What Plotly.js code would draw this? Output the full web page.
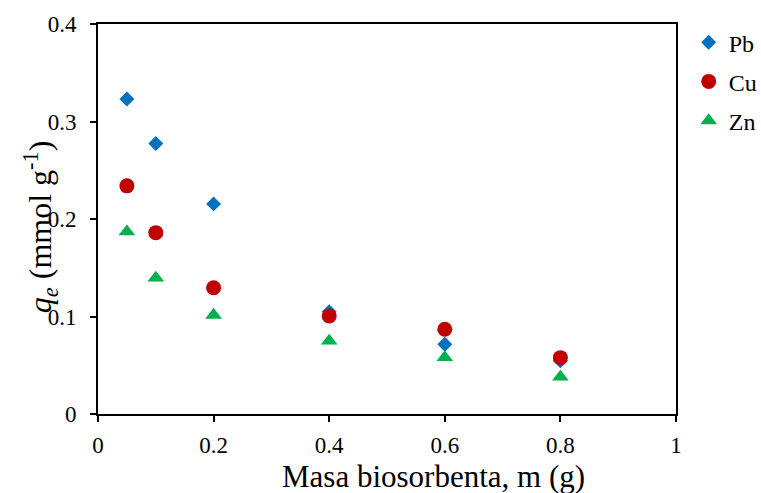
<!DOCTYPE html>
<html>
<head>
<meta charset="utf-8">
<script src="https://cdn.plot.ly/plotly-3.0.1.min.js"></script>
<style>html,body{margin:0;padding:0;background:#fff;}#chart{width:761px;height:493px;}</style>
</head>
<body>
<div id="chart"></div>
<script>
const massX = [0.05, 0.1, 0.2, 0.4, 0.6, 0.8];
const pbVals = [0.323, 0.2775, 0.2155, 0.105, 0.0715, 0.0545];
const cuVals = [0.234, 0.186, 0.1295, 0.1005, 0.087, 0.0578];
const znVals = [0.187, 0.1395, 0.1015, 0.075, 0.058, 0.038];
const seriesNames = ['Pb', 'Cu', 'Zn'];
const xTicks = [0, 0.2, 0.4, 0.6, 0.8, 1];
const xTickText = ['0', '0.2', '0.4', '0.6', '0.8', '1'];
const yTicks = [0, 0.1, 0.2, 0.3, 0.4];
const yTickText = ['0', '0.1', '0.2', '0.3', '0.4'];
const xTitle = 'Masa biosorbenta, m (g)';
const yTitle = '<i>q<sub>e</sub></i> (mmol g<sup>-1</sup>)';

const font = 'Liberation Serif';
const traces = [
  {x: massX, y: pbVals, name: seriesNames[0], legendgroup: 'g1', type: 'scatter', mode: 'markers',
   marker: {symbol: 'diamond', size: 11.5, color: '#0070C0'}},
  {x: massX, y: cuVals, name: seriesNames[1], legendgroup: 'g2', type: 'scatter', mode: 'markers',
   marker: {symbol: 'circle', size: 15, color: '#C00000'}},
  {x: massX, y: znVals, name: seriesNames[2], legendgroup: 'g3', type: 'scatter', mode: 'markers',
   marker: {symbol: 'triangle-up', size: 14.5, color: '#00B050'}}
];
const axisCommon = {
  showgrid: false, zeroline: false, showline: true, linecolor: '#000', linewidth: 2,
  mirror: true, ticks: 'outside', ticklen: 6, tickwidth: 2, tickcolor: '#000',
  tickfont: {family: font, size: 23, color: '#000'}
};
const layout = {
  width: 761, height: 493,
  font: {family: font, color: '#000'},
  margin: {l: 98, r: 85, t: 24, b: 79, autoexpand: false},
  paper_bgcolor: '#fff', plot_bgcolor: '#fff',
  showlegend: true,
  legend: {x: 1.022, y: 1.01, xanchor: 'left', yanchor: 'top',
    font: {family: font, size: 24, color: '#000'}, itemwidth: 30,
    bgcolor: 'rgba(0,0,0,0)', tracegroupgap: 5},
  xaxis: Object.assign({}, axisCommon, {
    range: [0, 1], tickvals: xTicks, ticktext: xTickText, ticklabelstandoff: 3
  }),
  yaxis: Object.assign({}, axisCommon, {
    range: [0, 0.4], tickvals: yTicks, ticktext: yTickText, ticklabelstandoff: 9
  }),
  annotations: [
    {text: xTitle, xref: 'paper', yref: 'paper', x: 0.5796, y: -0.159,
     xanchor: 'center', yanchor: 'middle', showarrow: false,
     font: {family: font, size: 31, color: '#000'}},
    {text: yTitle, xref: 'paper', yref: 'paper', x: -0.1003, y: 0.479, textangle: -90,
     xanchor: 'center', yanchor: 'middle', showarrow: false,
     font: {family: font, size: 32, color: '#000'}}
  ]
};
Plotly.newPlot('chart', traces, layout, {displayModeBar: false, staticPlot: true});
</script>
</body>
</html>
